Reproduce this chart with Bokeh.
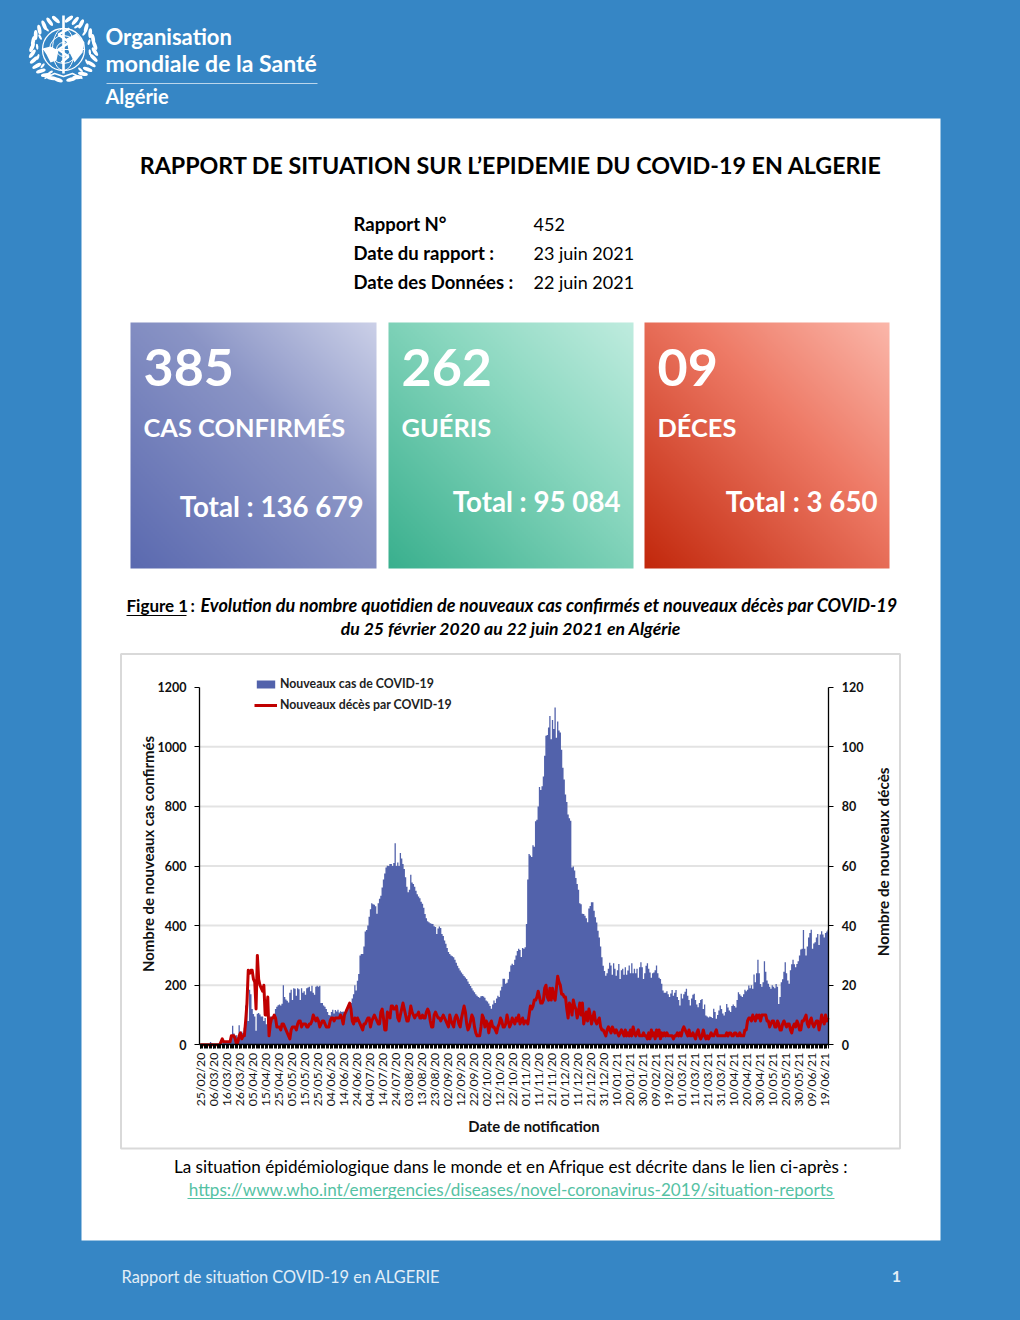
import math
import numpy as np
from bokeh.embed import file_html
from bokeh.resources import INLINE
from bokeh.models import (Range1d, LinearAxis, FixedTicker, Label, Legend, LegendItem, GlobalInlineStyleSheet)
from bokeh.plotting import figure

tick_labels = ["25/02/20","06/03/20","16/03/20","26/03/20","05/04/20","15/04/20","25/04/20","05/05/20","15/05/20","25/05/20",
               "04/06/20","14/06/20","24/06/20","04/07/20","14/07/20","24/07/20","03/08/20","13/08/20","23/08/20","02/09/20",
               "12/09/20","22/09/20","02/10/20","12/10/20","22/10/20","01/11/20","11/11/20","21/11/20","01/12/20","11/12/20",
               "21/12/20","31/12/20","10/01/21","20/01/21","30/01/21","09/02/21","19/02/21","01/03/21","11/03/21","21/03/21",
               "31/03/21","10/04/21","20/04/21","30/04/21","10/05/21","20/05/21","30/05/21","09/06/21","19/06/21"]
grid_values = [200, 400, 600, 800, 1000]
left_ticks = [0, 200, 400, 600, 800, 1000, 1200]
right_ticks = [0, 20, 40, 60, 80, 100, 120]

new_cases = [
 1,0,0,0,1,0,0,3,9,5, 3,0,0,3,0,5,2,5,10,11, 12,8,10,12,15,64,38,30,32,25, 66,40,45,40,57,132,139,80,185,170,
 120,103,95,47,104,107,102,95,95,80, 90,69,87,92,95,94,90,100,120,128, 133,135,132,138,200,160,152,148,142,175,
 185,150,190,188,165,190,186,150,190,175, 180,168,190,192,195,180,198,175,168,195, 198,195,198,140,140,132,128,120,110,100,
 98,110,118,105,117,112,118,108,113,110, 112,110,118,120,125,135,140,155,170,200, 182,215,238,300,305,305,330,380,385,400,
 430,455,475,472,470,465,440,475,490,500, 528,555,575,595,601,600,607,607,600,610, 676,600,612,600,644,625,607,590,562,530,
 512,520,571,545,540,530,517,505,498,492, 480,473,460,439,425,415,411,408,406,405, 398,395,372,390,397,392,372,365,350,339,
 325,311,305,300,297,294,285,275,265,257, 249,243,237,231,226,221,212,204,197,190, 182,176,170,165,160,158,163,164,162,158,
 149,145,139,130,121,135,149,140,155,165, 160,182,195,222,222,205,208,220,245,266, 272,268,285,300,315,322,318,295,325,322,
 327,405,555,640,635,630,670,665,750,755, 800,865,855,868,900,970,1037,1040,1065,1103, 1025,1090,1060,1132,1030,1085,1055,1048,990,930,
 890,840,815,773,760,752,595,598,585,560, 540,520,475,472,440,439,433,425,411,457, 466,478,478,450,428,410,383,360,330,294,
 265,248,232,240,255,275,266,235,274,255, 232,250,271,221,250,255,235,260,235,249, 266,240,274,240,255,240,255,225,260,277,
 260,221,240,265,274,255,243,225,240,243, 250,266,240,225,221,205,182,175,175,180, 170,160,172,184,165,175,184,160,150,132,
 171,155,170,178,188,165,150,132,155,168, 171,150,135,126,140,150,154,120,135,98, 95,92,95,93,90,121,110,87,100,115,
 132,120,105,98,110,137,125,115,110,130, 135,130,125,150,176,170,165,160,170,185, 180,185,199,190,200,188,236,210,240,285,
 240,204,195,210,280,245,216,205,195,188, 200,195,190,204,195,137,160,210,220,245, 277,240,216,205,250,270,285,270,260,271,
 280,300,320,322,385,322,300,330,360,375, 386,322,340,344,360,372,335,370,381,370, 360,375,380,386]

new_deaths = [
 0,0,0,0,0,0,0,0,0,0, 0,0,0,0,0,0,1,2,1,1, 1,1,1,1,3,3,3,2,0,1, 3,4,2,3,3,8,14,25,24,25,
 25,22,21,12,30,22,20,19,18,20, 10,10,16,3,7,9,9,10,9,6, 6,6,5,7,7,6,5,4,3,2, 5,6,6,6,5,7,8,8,6,7,
 7,7,6,6,7,7,8,10,9,8, 9,8,6,7,8,8,7,6,6,6, 8,9,9,8,9,9,9,9,10,9, 7,10,11,12,13,14,12,8,7,9,
 8,9,8,7,6,5,7,7,8,9, 9,6,8,9,10,9,8,7,7,11, 12,9,5,5,11,10,9,13,13,12, 12,13,9,8,10,12,14,12,10,8,
 8,10,13,11,10,9,10,10,11,9, 9,10,9,9,11,12,11,8,6,6, 10,11,10,9,9,8,9,10,9,8, 7,6,10,8,7,6,9,10,9,7,
 6,9,11,13,11,7,5,6,8,10, 9,6,4,3,3,3,6,10,9,6, 8,7,4,7,8,6,6,5,4,6, 7,9,8,6,6,7,10,8,6,7,
 9,8,7,9,8,10,7,8,9,7, 8,8,7,10,13,12,13,15,15,16, 18,16,14,14,15,19,20,16,15,19, 15,19,16,15,19,23,21,20,17,17,
 16,16,12,9,14,13,10,15,13,12, 9,11,14,10,14,7,9,11,8,12, 10,7,9,11,8,7,8,9,6,5, 5,4,3,5,6,5,4,6,5,4,
 5,4,3,4,5,4,3,5,3,4, 3,5,3,6,4,3,4,5,3,3, 3,4,3,3,2,4,2,5,3,4, 2,5,3,5,2,4,3,4,3,4,
 3,3,3,3,2,3,3,4,3,4, 3,5,6,5,4,3,5,3,3,4, 3,2,4,5,3,2,3,5,3,2, 3,2,3,4,3,3,4,5,3,3,
 3,3,3,3,3,4,3,4,4,3, 3,4,4,3,3,4,3,3,3,5, 5,8,9,9,8,10,9,8,10,9, 10,8,10,10,10,10,8,8,6,7,
 8,8,6,6,8,7,5,5,7,8, 7,6,7,7,5,4,6,7,6,8, 7,5,5,8,8,9,10,7,6,8, 9,7,6,7,8,8,5,7,10,8, 7,10,8,9]

BLUE = "#3686C5"
FONT = "Lato"
W, H = 1020, 1320

# The frame fills the page; the chart's scales are set so its axes land where the reference has them.
PX_X0, PX_X1 = 199.0, 828.3      # page x of the two value axes
PX_Y0, PX_Y1 = 1044.3, 686.7     # page y of the values 0 and 1200
DAYS = len(new_cases)
sx = (PX_X1 - PX_X0) / DAYS
sy = (PX_Y0 - PX_Y1) / 1200

p = figure(width=W, height=H, output_backend="svg", toolbar_location=None, min_border=0,
           x_range=Range1d(-0.5 - PX_X0 / sx, DAYS - 0.5 + (W - PX_X1) / sx),
           y_range=Range1d(-(H - PX_Y0) / sy, PX_Y0 / sy),
           background_fill_color=BLUE, border_fill_color=BLUE, x_axis_location=None, y_axis_location=None)
p.outline_line_color = None
p.grid.visible = False
p.extra_x_ranges = {"px": Range1d(0, W)}
p.extra_y_ranges = {"px": Range1d(H, 0), "deaths": Range1d(-(H - PX_Y0) / sy / 10, PX_Y0 / sy / 10)}
PX = dict(x_range_name="px", y_range_name="px")


def txt(x, y, s, size, color="#000000", style="normal", align="left", font=FONT, angle=0.0):
    p.add_layout(Label(x=x, y=y - 1.5, text=s, text_font=font, text_font_size=f"{size}px", text_color=color, angle=angle,
                       text_font_style=style, text_align=align, text_baseline="middle", **PX))


def gradient(c_bl, c_mid, c_tr, n=123):
    a = [np.array([int(c[i:i + 2], 16) for i in (1, 3, 5)], dtype=float) for c in (c_bl, c_mid, c_tr)]
    img = np.zeros((n, n, 4), dtype=np.uint8)
    for r in range(n):
        for c in range(n):
            t = (c + n - 1 - r) / (2 * (n - 1))
            col = a[0] + (a[1] - a[0]) * t / 0.6 if t < 0.6 else a[1] + (a[2] - a[1]) * (t - 0.6) / 0.4
            img[r, c, :3] = col
            img[r, c, 3] = 255
    return img.view(dtype=np.uint32).reshape((n, n))


# ---------------------------------------------------------------- sheet
p.quad(left=[81], right=[940], top=[118], bottom=[1240], fill_color="#FFFFFF", line_color=None, level="image", **PX)
p.quad(left=[120.5], right=[899.5], top=[653.5], bottom=[1148], fill_color="#FFFFFF", line_color="#D9D9D9",
       line_width=2, level="image", **PX)

# ---------------------------------------------------------------- WHO emblem and name
cx, cy = 63, 49
for ang in list(range(100, 262, 12)) + list(range(-80, 82, 12)):
    a = math.radians(ang)
    p.ellipse(x=[cx + 31.5 * math.cos(a)], y=[cy + 31.5 * math.sin(a) * 0.98], width=[10], height=[3.8],
              angle=[a + math.pi / 2 + (-0.5 if ang > 90 else 0.5)], fill_color="#FFFFFF", line_color=None, **PX)
for ang in list(range(120, 250, 22)) + list(range(-60, 65, 22)):
    a = math.radians(ang)
    p.ellipse(x=[cx + 26.5 * math.cos(a)], y=[cy + 26.5 * math.sin(a)], width=[6], height=[2.4],
              angle=[a + math.pi / 2], fill_color="#FFFFFF", line_color=None, **PX)
p.circle(x=[cx], y=[cy], radius=[21], fill_color=None, line_color="#FFFFFF", line_width=1.3, **PX)
p.circle(x=[cx], y=[cy], radius=[14], fill_color=None, line_color="#FFFFFF", line_width=1, **PX)
p.circle(x=[cx], y=[cy], radius=[7], fill_color=None, line_color="#FFFFFF", line_width=1, **PX)
p.ellipse(x=[cx], y=[cy], width=[22], height=[42], fill_color=None, line_color="#FFFFFF", line_width=1, **PX)
p.segment(x0=[cx - 21], y0=[cy], x1=[cx + 21], y1=[cy], line_color="#FFFFFF", line_width=1, **PX)
p.segment(x0=[cx], y0=[15], x1=[cx], y1=[73], line_color="#FFFFFF", line_width=2.6, **PX)
p.patch(x=[42, 50, 58, 56, 50, 46], y=[48, 46, 50, 60, 62, 54], fill_color="#FFFFFF", line_color=None, **PX)
p.patch(x=[66, 76, 84, 82, 74, 68], y=[38, 33, 42, 52, 62, 50], fill_color="#FFFFFF", line_color=None, **PX)
p.line(x=[cx + 6, cx - 5, cx + 6, cx - 5, cx + 5, cx - 2], y=[28, 34, 42, 49, 56, 62], line_color="#FFFFFF", line_width=2.4, **PX)
p.line(x=[44, 54, 63, 72, 82], y=[78, 73, 76, 73, 78], line_color="#FFFFFF", line_width=1.5, **PX)
txt(105, 37, "Organisation", 22, "#FFFFFF", "bold")
txt(105, 64, "mondiale de la Santé", 23, "#FFFFFF", "bold")
p.segment(x0=[106], y0=[83], x1=[317], y1=[83], line_color="#BBD6EC", line_width=1, **PX)
txt(105, 97, "Algérie", 20, "#FFFFFF", "bold")

# ---------------------------------------------------------------- heading and cards
txt(510.5, 166, "RAPPORT DE SITUATION SUR L’EPIDEMIE DU COVID-19 EN ALGERIE", 23.25, style="bold", align="center")
for y, name, val in ((225, "Rapport N°", "452"), (254, "Date du rapport :", "23 juin 2021"), (283, "Date des Données :", "22 juin 2021")):
    txt(353, y, name, 18.5, style="bold")
    txt(533, y, val, 18)

cards = [(130, 376, "#5B6AB0", "#8B95C6", "#CBD0E8", "385", "CAS CONFIRMÉS", "Total : 136 679", 507, 363),
         (388, 633, "#3AB08E", "#8BD8C0", "#BFECDF", "262", "GUÉRIS", "Total : 95 084", 502, 620),
         (644, 889, "#C2280C", "#EE7A66", "#FBB7AA", "09", "DÉCES", "Total : 3 650", 502, 877)]
for left, right, c1, c2, c3, big, word, total, ty, tx in cards:
    p.image_rgba(image=[gradient(c1, c2, c3)], x=[left], y=[322], dw=[right - left], dh=[246], **PX)
    txt(left + 13, 368, big, 52, "#FFFFFF", "bold")
    txt(left + 13, 428, word, 25.4, "#FFFFFF", "bold")
    txt(tx, ty, total, 27.7, "#FFFFFF", "bold", "right")

txt(126, 606, "Figure 1", 17, style="bold")
p.segment(x0=[126], y0=[615], x1=[186], y1=[615], line_color="#000000", line_width=1, **PX)
txt(190, 606, ":", 17, style="bold")
txt(200, 606, "Evolution du nombre quotidien de nouveaux cas confirmés et nouveaux décès par COVID-19", 18, style="bold italic")
txt(510.5, 629, "du 25 février 2020 au 22 juin 2021 en Algérie", 17.6, style="bold italic", align="center")

# ---------------------------------------------------------------- the chart
x_idx = list(range(DAYS))
p.segment(x0=[-0.5] * len(grid_values), y0=grid_values, x1=[DAYS - 0.5] * len(grid_values), y1=grid_values,
          line_color="#E3E3E3", line_width=2, level="underlay")

bars = p.varea_step(x=x_idx, y1=[0] * DAYS, y2=new_cases, step_mode="center", fill_color="#5262AB")
death_line = p.line(x=x_idx, y=new_deaths, y_range_name="deaths", line_color="#C00000", line_width=3, line_join="round")

left_ax = LinearAxis(fixed_location=-0.5, bounds=(0, 1200), ticker=FixedTicker(ticks=left_ticks))
right_ax = LinearAxis(fixed_location=DAYS - 0.5, y_range_name="deaths", bounds=(0, 120), ticker=FixedTicker(ticks=right_ticks))
p.add_layout(left_ax, "left")
p.add_layout(right_ax, "right")
for ax in (left_ax, right_ax):
    ax.axis_line_color = "#000000"
    ax.axis_line_width = 1.3
    ax.major_tick_in = 0
    ax.major_tick_out = 5
    ax.major_tick_line_color = "#000000"
    ax.minor_tick_line_color = None
    ax.major_label_text_font = FONT
    ax.major_label_text_font_size = "12.5px"
    ax.major_label_text_font_style = "bold"
    ax.major_label_text_color = "#111111"
    ax.major_label_standoff = 8

major = list(range(0, DAYS, 10))
xa = LinearAxis(fixed_location=0, bounds=(-0.5, DAYS - 0.5), ticker=FixedTicker(ticks=major, minor_ticks=x_idx))
xa.major_label_overrides = {m: t for m, t in zip(major, tick_labels)}
xa.major_label_orientation = math.pi / 2
xa.major_label_text_font = FONT
xa.major_label_text_font_size = "12.2px"
xa.major_label_text_color = "#111111"
xa.major_label_standoff = 4
xa.axis_line_color = "#000000"
xa.axis_line_width = 1.3
xa.major_tick_in = 0
xa.major_tick_out = 4
xa.minor_tick_in = 0
xa.minor_tick_out = 4
xa.major_tick_line_color = "#000000"
xa.minor_tick_line_color = "#000000"
p.add_layout(xa, "below")

legend = Legend(items=[LegendItem(label="Nouveaux cas de COVID-19", renderers=[bars]),
                       LegendItem(label="Nouveaux décès par COVID-19", renderers=[death_line])],
                location=(254, 608), orientation="vertical", background_fill_alpha=0, border_line_color=None,
                label_text_font=FONT, label_text_font_size="12.3px", label_text_font_style="bold",
                label_text_color="#222222", glyph_width=23, glyph_height=10, label_height=14, label_standoff=3,
                spacing=6, margin=0, padding=0)
p.add_layout(legend)

txt(147.5, 855, "Nombre de nouveaux cas confirmés", 14.9, "#111111", "bold", "center", angle=math.pi / 2)
txt(882, 861, "Nombre de nouveaux  décès", 15.3, "#111111", "bold", "center", angle=math.pi / 2)
txt(533.5, 1127, "Date de notification", 14.8, "#111111", "bold", "center")

# ---------------------------------------------------------------- foot of the page
txt(510.5, 1167, "La situation épidémiologique dans le monde et en Afrique est décrite dans le lien ci-après :", 17.1, align="center")
txt(510.5, 1190, "https://www.who.int/emergencies/diseases/novel-coronavirus-2019/situation-reports", 17.1, "#55C2A4", align="center")
p.segment(x0=[187], y0=[1198], x1=[834], y1=[1198], line_color="#55C2A4", line_width=1, **PX)
txt(121, 1277, "Rapport de situation COVID-19 en ALGERIE", 16.4, "#E3EEF7")
txt(896, 1277, "1", 16, "#E3EEF7", "bold", "center")

p.stylesheets = [GlobalInlineStyleSheet(css="html,body{margin:0;background:#3686C5;}")]

open("out.html", "w").write(file_html(p, INLINE))
